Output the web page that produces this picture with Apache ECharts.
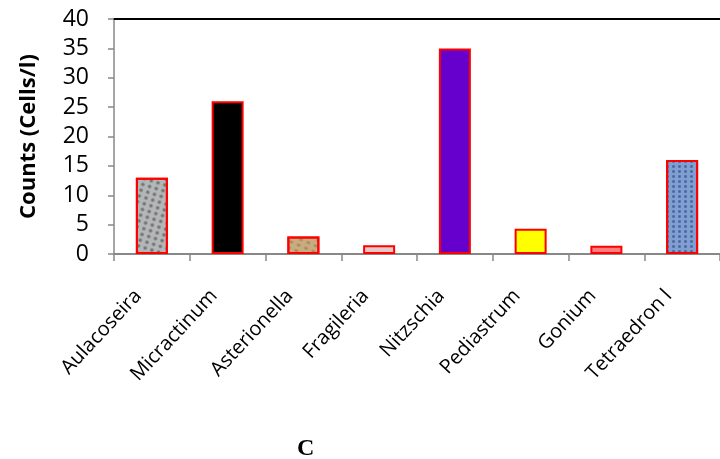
<!DOCTYPE html>
<html>
<head>
<meta charset="utf-8">
<script src="https://cdn.jsdelivr.net/npm/echarts@6/dist/echarts.min.js"></script>
<style>html,body{margin:0;padding:0;background:#fff;}#c{width:720px;height:459px;}</style>
</head>
<body>
<div id="c"></div>
<script>
const categories = ["Aulacoseira","Micractinum","Asterionella","Fragileria","Nitzschia","Pediastrum","Gonium","Tetraedron l"];
const counts = [13, 26, 3, 1.5, 35, 4.3, 1.4, 16];
const barColors = ["#b4b7b7","#000000","#c9ab80","#e6c8c8","#6600cc","#ffff00","#ff7f7f","#7f9fd2"];
const yTicks = [0,5,10,15,20,25,30,35,40];

const decals = {
  0: {symbol:'circle', color:'rgba(60,60,60,0.55)', symbolSize:0.9, dashArrayX:[[4,3]], dashArrayY:[4,2], rotation:0.3},
  2: {symbol:'rect', color:'rgba(120,85,40,0.45)', symbolSize:0.7, dashArrayX:[[5,3]], dashArrayY:[3,3], rotation:0.4},
  7: {symbol:'rect', color:'rgba(20,40,100,0.55)', symbolSize:0.8, dashArrayX:[[3,3]], dashArrayY:[3,2], rotation:0}
};

const data = counts.map((v,i)=>{
  const it = {value:v, itemStyle:{color:barColors[i], borderColor:'#ff0000', borderWidth:2}};
  if (decals[i]) it.itemStyle.decal = decals[i];
  return it;
});

const chart = echarts.init(document.getElementById('c'));
chart.setOption({
  animation:false,
  grid:{left:114, top:19, bottom:205, right:-10, containLabel:false},
  title:{text:'C', left:292, top:432, textStyle:{fontFamily:'Liberation Serif', fontWeight:'bold', fontSize:24, color:'#000'}},
  xAxis:[{
    type:'category', data:categories, boundaryGap:true,
    axisLine:{lineStyle:{color:'#888', width:2}},
    axisTick:{show:true, length:7, lineStyle:{color:'#888', width:1.5}, alignWithLabel:false},
    axisLabel:{rotate:47, interval:0, fontFamily:'Open Sans', fontSize:20, color:'#000', margin:24, padding:[0,20,0,0]}
  },{
    type:'category', data:categories, position:'top',
    axisLine:{lineStyle:{color:'#000', width:2}},
    axisTick:{show:false}, axisLabel:{show:false}
  }],
  yAxis:{
    type:'value', min:0, max:40, interval:5,
    name:'Counts (Cells/l)', nameLocation:'middle', nameGap:74, nameRotate:90,
    nameTextStyle:{fontFamily:'Open Sans', fontWeight:'bold', fontSize:22, color:'#000'},
    axisLine:{show:true, lineStyle:{color:'#888', width:1.5}},
    axisTick:{show:true, length:6, lineStyle:{color:'#888', width:1.5}},
    axisLabel:{fontFamily:'Open Sans', fontSize:23, color:'#000', margin:25,
      formatter:v=> yTicks.includes(v) ? String(v) : ''},
    splitLine:{show:false}
  },
  series:[{type:'bar', data:data, barWidth:32, xAxisIndex:0}]
});
</script>
</body>
</html>
